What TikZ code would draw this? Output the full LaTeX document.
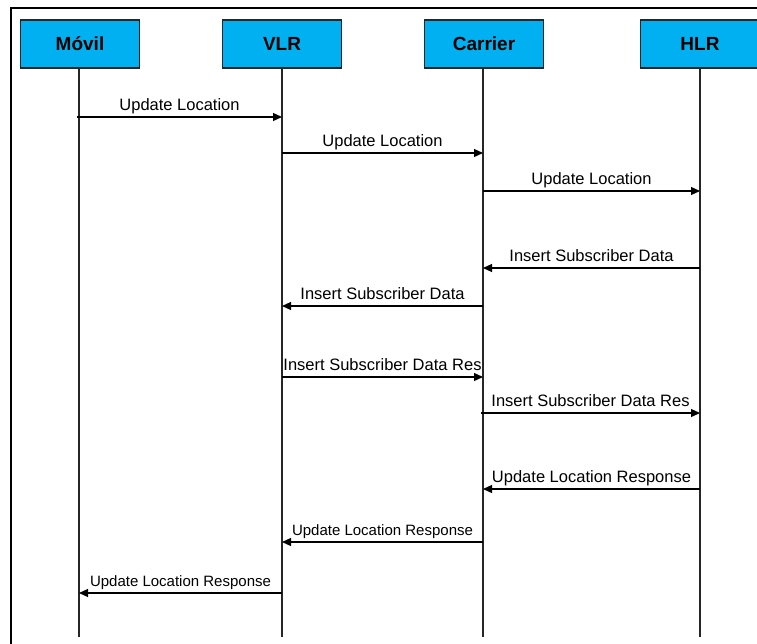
\documentclass[tikz,border=0pt]{standalone}
\usepackage{fontspec}
\setmainfont{Liberation Sans}
\usetikzlibrary{arrows.meta}
\definecolor{boxcyan}{HTML}{00B0F0}
\begin{document}
\begin{tikzpicture}[x=1pt,y=-1pt,
  actor/.style={draw=black!85,line width=1.2pt,fill=boxcyan,minimum width=119pt,minimum height=48pt,inner sep=0pt,font=\fontsize{19}{19}\selectfont\bfseries},
  life/.style={line width=1.2pt,draw=black!85},
  msg/.style={line width=1.2pt,-{Triangle[length=9pt,width=8pt]}},
  lab/.style={anchor=base,font=\fontsize{16.5}{16.5}\selectfont,inner sep=0pt,midway,yshift=6.5pt},
  slab/.style={anchor=base,font=\fontsize{15}{15}\selectfont,inner sep=0pt,midway,yshift=6.5pt}]
\useasboundingbox (0,0) rectangle (757,643);
% frame
\coordinate (fbl) at (11,660);
\coordinate (ftl) at (11,8);
\coordinate (ftr) at (780,8);
\draw[line width=2pt] (fbl) -- (ftl) -- (ftr);
% actors
\node[actor] (mov) at (80,44) {Móvil};
\node[actor] (vlr) at (282,44) {VLR};
\node[actor] (car) at (484,44) {Carrier};
\node[actor] (hlr) at (700,44) {HLR};
% lifeline ends
\coordinate (movE) at (79,637);
\coordinate (vlrE) at (282,637);
\coordinate (carE) at (483,637);
\coordinate (hlrE) at (700,637);
\draw[life] (mov.south -| movE) -- (movE);
\draw[life] (vlr.south -| vlrE) -- (vlrE);
\draw[life] (car.south -| carE) -- (carE);
\draw[life] (hlr.south -| hlrE) -- (hlrE);
% message points
\coordinate (m1a) at (77,117);  \coordinate (m1b) at (282,117);
\coordinate (m2a) at (282,153); \coordinate (m2b) at (483,153);
\coordinate (m3a) at (483,191); \coordinate (m3b) at (700,191);
\coordinate (m4a) at (700,268); \coordinate (m4b) at (483,268);
\coordinate (m5a) at (483,306); \coordinate (m5b) at (282,306);
\coordinate (m6a) at (282,377); \coordinate (m6b) at (483,377);
\coordinate (m7a) at (481,413); \coordinate (m7b) at (700,413);
\coordinate (m8a) at (700,489); \coordinate (m8b) at (483,489);
\coordinate (m9a) at (483,542); \coordinate (m9b) at (282,542);
\coordinate (m10a) at (282,593); \coordinate (m10b) at (79,593);
\draw[msg] (m1a) -- node[lab] (l1) {Update Location} (m1b);
\draw[msg] (m2a) -- node[lab] (l2) {Update Location} (m2b);
\draw[msg] (m3a) -- node[lab] (l3) {Update Location} (m3b);
\draw[msg] (m4a) -- node[lab] (l4) {Insert Subscriber Data} (m4b);
\draw[msg] (m5a) -- node[lab] (l5) {Insert Subscriber Data} (m5b);
\draw[msg] (m6a) -- node[lab] (l6) {Insert Subscriber Data Res} (m6b);
\draw[msg] (m7a) -- node[lab] (l7) {Insert Subscriber Data Res} (m7b);
\draw[msg] (m8a) -- node[lab] (l8) {Update Location Response} (m8b);
\draw[msg] (m9a) -- node[slab] (l9) {Update Location Response} (m9b);
\draw[msg] (m10a) -- node[slab] (l10) {Update Location Response} (m10b);
\end{tikzpicture}
\end{document}
